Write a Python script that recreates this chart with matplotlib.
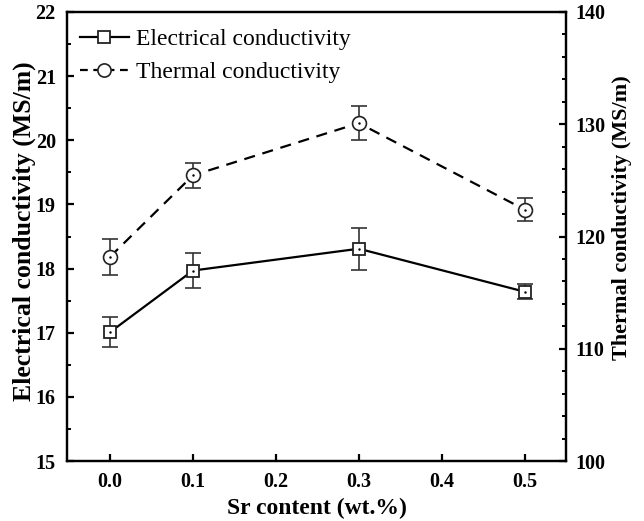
import matplotlib
matplotlib.use("Agg")
import matplotlib.pyplot as plt
from matplotlib.ticker import MultipleLocator
from matplotlib.lines import Line2D

plt.rcParams['font.family'] = ['Liberation Serif', 'DejaVu Serif']
plt.rcParams['mathtext.fontset'] = 'stix'

# Sr additions and measured conductivities
sr_content = [0.0, 0.1, 0.3, 0.5]
elec_cond = [17.01, 17.97, 18.31, 17.64]
elec_err = [0.23, 0.27, 0.33, 0.12]
therm_cond = [118.2, 125.45, 130.1, 122.4]
therm_err = [1.6, 1.1, 1.5, 1.0]

fig = plt.figure(figsize=(6.44, 5.21), dpi=100)
ax = fig.add_axes([0.104, 0.115, 0.775, 0.862])
ax2 = ax.twinx()

# electrical conductivity, left axis
ax.errorbar(sr_content, elec_cond, yerr=elec_err, fmt='none', ecolor='#333333',
            elinewidth=1.2, capsize=5.5, capthick=1.2, zorder=2)
ax.plot(sr_content, elec_cond, color='k', lw=1.6, marker='s', ms=8.5,
        mfc='white', mec='#222222', mew=1.3, zorder=3)
ax.plot(sr_content, elec_cond, ls='none', marker='.', ms=1.5, color='k', zorder=4)

# thermal conductivity, right axis
ax2.errorbar(sr_content, therm_cond, yerr=therm_err, fmt='none', ecolor='#333333',
             elinewidth=1.2, capsize=5.5, capthick=1.2, zorder=2)
ax2.plot(sr_content, therm_cond, color='k', lw=1.6, dashes=(5, 3.5), marker='o', ms=10,
         mfc='white', mec='#222222', mew=1.2, zorder=3)
ax2.plot(sr_content, therm_cond, ls='none', marker='.', ms=1.5, color='k', zorder=4)

ax.set_xlim(-0.052, 0.55)
ax.set_ylim(15, 22)
ax2.set_ylim(100, 140)
ax.set_xticks([0.0, 0.1, 0.2, 0.3, 0.4, 0.5])
ax.set_xticklabels(['0.0', '0.1', '0.2', '0.3', '0.4', '0.5'])
ax.yaxis.set_major_locator(MultipleLocator(1))
ax.yaxis.set_minor_locator(MultipleLocator(0.5))
ax2.yaxis.set_major_locator(MultipleLocator(10))
ax2.yaxis.set_minor_locator(MultipleLocator(2))

for a in (ax, ax2):
    for s in a.spines.values():
        s.set_linewidth(1.6)
ax.tick_params(axis='both', which='major', direction='in', length=5, width=1.6,
               labelsize=14.5, pad=8, top=False, right=False)
ax.tick_params(axis='y', which='minor', direction='in', length=3, width=1.4, right=False)
ax2.tick_params(axis='y', which='major', direction='in', length=5, width=1.6,
                labelsize=14.5, pad=7)
ax2.tick_params(axis='y', which='minor', direction='in', length=3, width=1.4)
for lab in ax.get_xticklabels() + ax.get_yticklabels() + ax2.get_yticklabels():
    lab.set_fontweight('bold')

ax.set_xlabel('Sr content (wt.%)', fontsize=17, fontweight='bold', labelpad=4)
ax.set_ylabel('Electrical conductivity (MS/m)', fontsize=18.5, fontweight='bold')
ax2.set_ylabel('Thermal conductivity (MS/m)', fontsize=16, fontweight='bold')
ax.yaxis.set_label_coords(-0.062, 0.512)
ax2.yaxis.set_label_coords(1.092, 0.541)

handles = [
    Line2D([], [], color='k', lw=1.6, marker='s', ms=8, mfc='white', mec='#222222', mew=1.3),
    Line2D([], [], color='k', lw=1.6, dashes=(3.5, 2.5), marker='o', ms=9.5, mfc='white',
           mec='#222222', mew=1.2),
]
ax.legend(handles, ['Electrical conductivity', 'Thermal conductivity'], loc='upper left',
          frameon=False, fontsize=17, handlelength=2.1, handletextpad=0.3,
          borderaxespad=0.35, borderpad=0.35, labelspacing=0.5,
          bbox_to_anchor=(-0.008, 1.0))

fig.savefig('out.png', dpi=100)
